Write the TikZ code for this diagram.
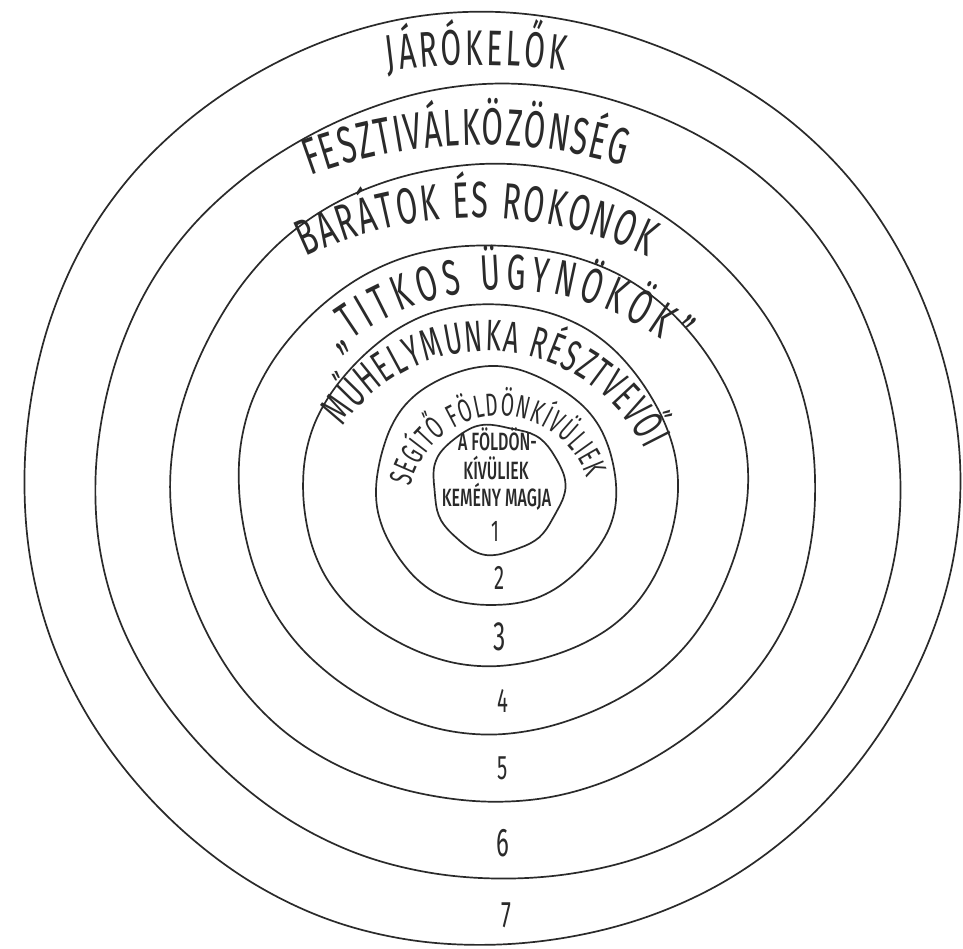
\documentclass[tikz,border=0pt]{standalone}
\usepackage{fontspec}
\usetikzlibrary{decorations.text}
\newfontfamily\lab{Fira Sans}[FakeStretch=0.6]
\newfontfamily\corefont{Fira Sans}[FakeStretch=0.64, UprightFont={* Medium}]
\definecolor{ink}{HTML}{2A2A2A}
\tikzset{
  ringline/.style={draw=ink, line width=1.7pt, line join=round},
  numlabel/.style={inner sep=0pt, text=ink},
  corelabel/.style={inner sep=0pt, anchor=base, text=ink}
}
% wobbly hand-drawn ring: cx, cy, rx, ry, phase, amplitude
\newcommand\wobblering[6]{%
  \draw[ringline] plot[smooth cycle, tension=0.6, domain=0:350, samples=36, variable=\t]
   ({#1+#3*(1+#6*sin(3*\t+#5)+0.6*#6*sin(7*\t+2*#5))*cos(\t)},
    {#2+#4*(1+#6*sin(3*\t+#5)+0.6*#6*sin(7*\t+2*#5))*sin(\t)});
}
% text along an arc: cx, cy, r, start angle, end angle, text
\newcommand\arclabel[6]{%
  \path[decorate, decoration={text along path, text={#6}, text align={fit to path}}]
    ([shift={(#4:#3)}]#1,#2) arc[start angle=#4, end angle=#5, radius=#3];
}
\begin{document}
\begin{tikzpicture}[x=1pt, y=1pt]
\useasboundingbox (0,0) rectangle (963,949);
\fill[white] (0,0) rectangle (963,949);

% rings (innermost 1 to outermost 7)
\wobblering{497.5}{460.5}{65.5}{64.5}{40}{0.03}
\wobblering{495}{462.5}{120}{119.5}{100}{0.012}
\wobblering{490.5}{463}{187.5}{181}{200}{0.008}
\wobblering{492.5}{461.5}{254.5}{244.5}{15}{0.007}
\wobblering{492.5}{465}{322.5}{319}{140}{0.006}
\wobblering{499.5}{466.5}{402.5}{397.5}{260}{0.005}
\wobblering{490}{470.5}{468}{466.5}{70}{0.004}

% ring labels
\arclabel{478}{184}{700}{97.4}{82.9}{|\lab\fontsize{50}{54}\selectfont\color{ink}|JÁRÓKELŐK}
\arclabel{482.4}{307.2}{496.8}{110.3}{73.5}{|\lab\fontsize{52}{56}\selectfont\color{ink}|FESZTIVÁLKÖZÖNSÉG}
\arclabel{477}{332}{399}{115.5}{64.6}{|\lab\fontsize{51}{55}\selectfont\color{ink}|BARÁTOK ÉS ROKONOK}
\arclabel{506}{393}{266}{129.4}{50.6}{|\lab\fontsize{50}{54}\selectfont\color{ink}|„TITKOS ÜGYNÖKÖK”}
\arclabel{487}{423}{175}{145.5}{25.8}{|\lab\fontsize{44}{48}\selectfont\color{ink}|MŰHELYMUNKA RÉSZTVEVŐI}
\arclabel{500}{441}{92}{166.8}{19.0}{|\lab\fontsize{32}{35}\selectfont\color{ink}|SEGÍTŐ FÖLDÖNKÍVÜLIEK}

% core label
\node[corelabel] (core1) at (497.5,498) {\corefont\fontsize{25}{28}\selectfont A FÖLDÖN-};
\node[corelabel] (core2) at (496,469) {\corefont\fontsize{25}{28}\selectfont KÍVÜLIEK};
\node[corelabel] (core3) at (496.5,442) {\corefont\fontsize{25}{28}\selectfont KEMÉNY MAGJA};

% ring numbers
\node[numlabel] (n1) at (495,418) {\lab\fontsize{30}{33}\selectfont 1};
\node[numlabel] (n2) at (500,371) {\lab\fontsize{34}{37}\selectfont 2};
\node[numlabel] (n3) at (500,312) {\lab\fontsize{41}{44}\selectfont 3};
\node[numlabel] (n4) at (503,248) {\lab\fontsize{34}{37}\selectfont 4};
\node[numlabel] (n5) at (503,181) {\lab\fontsize{34}{37}\selectfont 5};
\node[numlabel] (n6) at (503,106) {\lab\fontsize{40}{43}\selectfont 6};
\node[numlabel] (n7) at (506,34) {\lab\fontsize{37}{40}\selectfont 7};
\end{tikzpicture}
\end{document}
